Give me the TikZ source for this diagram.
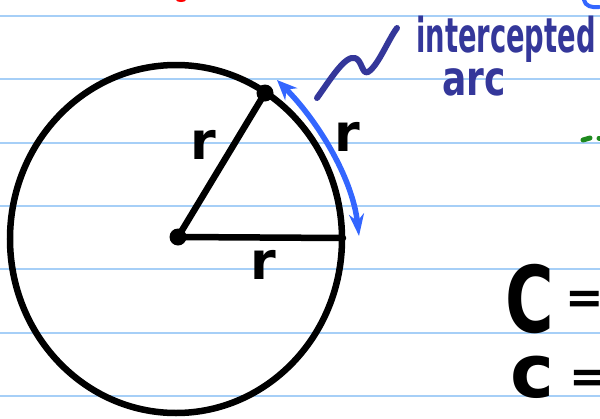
\documentclass[tikz,border=0pt]{standalone}
\usepackage{fontspec}
\setmainfont{DejaVu Sans}
\usetikzlibrary{arrows.meta}
\definecolor{rulecol}{HTML}{A6CFF7}
\definecolor{ink}{HTML}{34379A}
\definecolor{arcblue}{HTML}{3366FF}
\definecolor{greenink}{HTML}{1E8A1E}
\begin{document}
\begin{tikzpicture}[x=1pt,y=-1pt,
  ruling/.style={rulecol, line width=2},
  pen/.style={black, line width=6.5, line cap=round},
  dotmark/.style={circle, fill=black, inner sep=0pt, minimum size=17},
  rlabel/.style={font=\fontsize{52}{52}\bfseries\selectfont, anchor=base, inner sep=0pt},
  inktext/.style={ink, anchor=base, inner sep=0pt, text depth=0pt, font=\fontsize{48}{48}\bfseries\selectfont},
  eqtext/.style={anchor=base, inner sep=0pt, text depth=0pt}]
\useasboundingbox (0,0) rectangle (600,418);
\clip (0,0) rectangle (600,418);
\fill[white] (0,0) rectangle (600,418);
% ruled paper
\foreach \yy in {15.5,79,142.5,206,269,332.5,396}
  \draw[ruling] (0,\yy) -- (600,\yy);
% circle
\coordinate (cc) at (176,239);
\draw[pen] (cc) ellipse [x radius=166, y radius=174];
% points
\node[dotmark] (O) at (178,237) {};
\node[dotmark] (P) at (265,93) {};
\coordinate (R) at (343,238);
\draw[pen] (O.center) -- (P.center);
\draw[pen] (O.center) -- (R);
% r labels
\node[rlabel] (r1) at (203,159) {r};
\node[rlabel] (r2) at (347,151) {r};
\node[rlabel] (r3) at (263,279) {r};
% blue arc arrow
\coordinate (A1) at (277,80);
\coordinate (A2) at (359,236);
\draw[arcblue, line width=5.5, line cap=round,
  {Stealth[length=20pt,width=17pt]}-{Stealth[length=22pt,width=15pt]}]
  (A1) .. controls (315,118) and (352,175) .. (A2);
% squiggle pointer
\coordinate (S0) at (317,98);
\coordinate (S1) at (397,28);
\draw[ink, line width=6, line cap=round, line join=round]
  (S0) .. controls (330,80) and (345,55) .. (355,58)
  .. controls (362,60) and (362,75) .. (368,72)
  .. controls (378,66) and (388,40) .. (S1);
% label
\node[inktext, xscale=0.57] (t1) at (506,52) {intercepted};
\node[inktext, xscale=0.75, text height=0.55em] (t2) at (474,95) {arc};
% C = lines
\node[eqtext, font=\fontsize{92}{92}\bfseries\selectfont, xscale=0.72] (C1) at (530,332) {C};
\node[eqtext, font=\fontsize{46}{46}\bfseries\selectfont] (E1) at (585,313) {=};
\node[eqtext, font=\fontsize{74}{74}\bfseries\selectfont, text height=0.56em] (C2) at (532,397) {c};
\node[eqtext, font=\fontsize{46}{46}\bfseries\selectfont] (E2) at (589,392) {=};
% fragments at the edges
\fill[red] (181,0) ellipse [x radius=5, y radius=2];
\draw[arcblue, line width=4, line cap=round] (584,0) .. controls (585,6) and (592,8) .. (599,7);
\draw[greenink, line width=5, line cap=round] (583,140) -- (590,138);
\draw[greenink, line width=5, line cap=round] (599,138) -- (601,138);
\end{tikzpicture}
\end{document}
